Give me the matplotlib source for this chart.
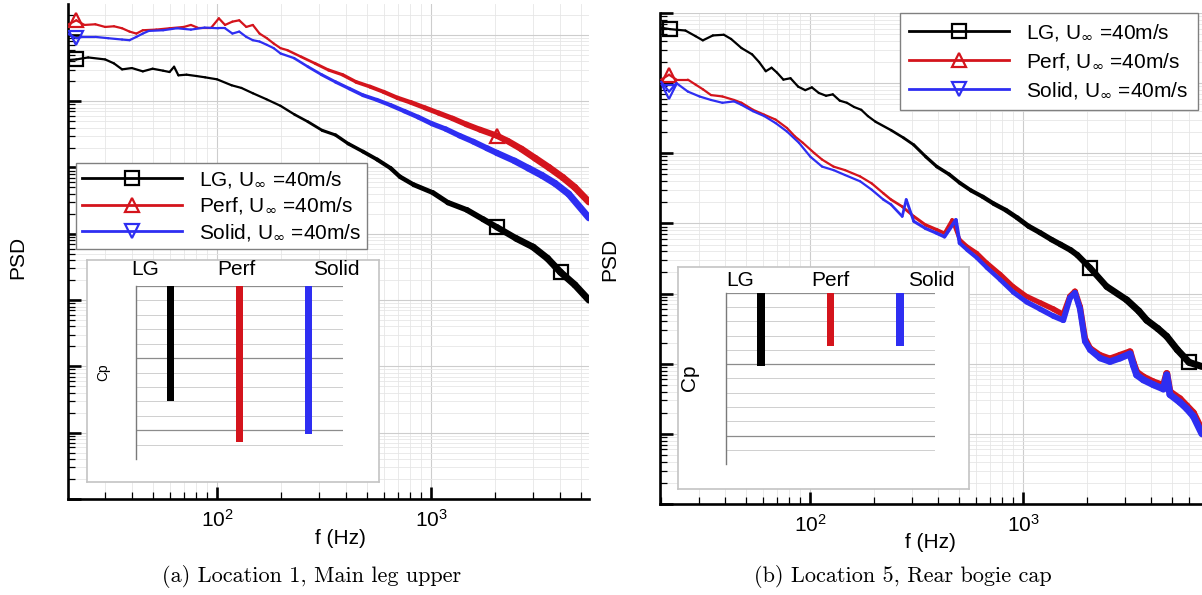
import numpy as np
import matplotlib
matplotlib.use('Agg')
import matplotlib.pyplot as plt
from matplotlib.collections import LineCollection
from matplotlib.lines import Line2D
from matplotlib.ticker import LogLocator, NullFormatter, FixedLocator

plt.rcParams['font.family'] = ['Liberation Sans', 'DejaVu Sans']
plt.rcParams['mathtext.fontset'] = 'dejavusans'

# ---------------- data ----------------
# PSD values are stored as log10(PSD) in arbitrary units
# Panel (a) Location 1, main leg upper
a_lg_f = [20, 22, 25, 30, 33, 36, 40, 45, 50, 56, 60, 63, 66, 72, 80, 88, 100, 117, 130, 147,
          170, 198, 230, 266, 310, 358, 410, 481, 560, 647, 716, 830, 1020, 1200, 1472, 1750,
          2030, 2500, 3000, 3500, 4030, 4700, 5470]
a_lg_log = [2.62, 2.63, 2.66, 2.63, 2.57, 2.48, 2.50, 2.45, 2.49, 2.46, 2.44, 2.52, 2.39, 2.40,
            2.38, 2.36, 2.33, 2.24, 2.20, 2.12, 2.03, 1.93, 1.80, 1.69, 1.56, 1.49, 1.36, 1.24,
            1.12, 0.99, 0.86, 0.74, 0.62, 0.47, 0.36, 0.22, 0.10, -0.07, -0.20, -0.37, -0.58,
            -0.77, -1.00]

a_perf_f = [20, 22, 24, 27, 30, 33, 36, 39, 42, 45, 52, 60, 70, 75.5, 81, 94, 102, 109, 118, 127,
            137, 147, 158, 171, 184, 198, 213, 247, 287, 332, 385, 447, 518, 601, 697, 807, 937,
            1087, 1261, 1462, 1695, 2030, 2280, 2643, 3066, 3556, 4127, 4700, 5470]
a_perf_log = [3.15, 3.22, 3.15, 3.16, 3.12, 3.13, 3.10, 3.05, 3.02, 3.07, 3.08, 3.10, 3.12, 3.15,
              3.11, 3.11, 3.25, 3.15, 3.20, 3.22, 3.12, 3.15, 3.02, 2.95, 2.87, 2.80, 2.77, 2.67,
              2.57, 2.47, 2.40, 2.29, 2.22, 2.14, 2.05, 1.98, 1.90, 1.82, 1.74, 1.65, 1.57, 1.48,
              1.40, 1.28, 1.14, 1.00, 0.85, 0.70, 0.48]

a_solid_f = [20, 22, 23.5, 27, 31, 36, 39, 42, 45, 48, 56, 65, 75.5, 87.5, 101.6, 109, 118, 127,
             137, 147, 158, 171, 184, 198, 229, 266, 308, 358, 415, 481, 558, 647, 751, 871, 1010,
             1171, 1359, 1575, 1827, 2030, 2456, 2849, 3303, 3800, 4400, 5470]
a_solid_log = [3.02, 2.95, 2.97, 2.97, 2.95, 2.93, 2.92, 2.97, 3.02, 3.06, 3.07, 3.10, 3.08, 3.11,
               3.10, 3.10, 3.02, 3.05, 2.97, 2.92, 2.90, 2.85, 2.80, 2.72, 2.65, 2.52, 2.40, 2.29,
               2.19, 2.09, 2.02, 1.94, 1.85, 1.76, 1.66, 1.58, 1.48, 1.39, 1.29, 1.22, 1.10, 0.99,
               0.88, 0.76, 0.60, 0.24]

# Panel (b) Location 5, rear bogie cap
b_lg_f = [20, 22, 26, 29, 31.4, 35, 39.4, 42.6, 47.7, 53.5, 57.7, 62, 66, 70, 75, 81, 88, 95, 102,
          110, 119, 128, 138, 149, 161, 174, 187, 203, 240, 275, 307, 350, 394, 450, 504, 570,
          647, 730, 830, 940, 1062, 1200, 1361, 1500, 1674, 1800, 2060, 2472, 3069, 3500, 3810,
          4300, 4730, 5300, 6020, 6920]
b_lg_log = [2.79, 2.77, 2.75, 2.67, 2.61, 2.68, 2.69, 2.63, 2.50, 2.41, 2.30, 2.17, 2.22, 2.15,
            2.05, 2.07, 1.95, 1.90, 1.94, 1.86, 1.82, 1.84, 1.75, 1.72, 1.66, 1.62, 1.53, 1.45,
            1.33, 1.22, 1.12, 0.95, 0.81, 0.70, 0.58, 0.47, 0.38, 0.28, 0.19, 0.08, -0.04, -0.13,
            -0.23, -0.30, -0.38, -0.45, -0.63, -0.90, -1.09, -1.25, -1.38, -1.50, -1.61, -1.80,
            -1.98, -2.04]

b_perf_f = [20, 21.8, 23.6, 26.7, 29, 31.5, 34.3, 38.8, 44, 47.7, 54, 61, 69, 78, 85, 92.5, 105,
            114, 129, 146, 172, 195, 221, 240, 271, 307, 348, 394, 428, 465, 504, 548, 607, 676,
            780, 900, 1040, 1202, 1387, 1546, 1662, 1754, 1852, 1955, 2064, 2301, 2561, 2853,
            3179, 3296, 3417, 3676, 4096, 4563, 4731, 4898, 5457, 5870, 6310, 6920]
b_perf_log = [2.05, 2.12, 2.05, 2.05, 1.98, 1.91, 1.83, 1.81, 1.76, 1.72, 1.62, 1.55, 1.48, 1.36,
              1.24, 1.15, 1.00, 0.91, 0.81, 0.76, 0.67, 0.57, 0.43, 0.34, 0.24, 0.10, -0.02,
              -0.09, -0.14, 0.05, -0.23, -0.33, -0.42, -0.56, -0.72, -0.90, -1.04, -1.13, -1.22,
              -1.30, -1.04, -0.97, -1.19, -1.64, -1.78, -1.88, -1.93, -1.88, -1.83, -1.99, -2.12,
              -2.19, -2.26, -2.31, -2.14, -2.40, -2.50, -2.60, -2.70, -2.95]

b_solid_f = [20, 21.8, 23.6, 26.7, 30.3, 34.3, 38.8, 44, 47.7, 54, 61, 69, 78, 88.7, 100.5, 114,
             129, 146, 172, 195, 221, 240, 271, 283, 307, 348, 394, 428, 484, 504, 548, 607, 676,
             780, 900, 1040, 1202, 1387, 1546, 1662, 1754, 1852, 1955, 2064, 2301, 2561, 2853,
             3179, 3296, 3417, 3676, 4096, 4563, 4731, 4898, 5457, 5870, 6310, 6920]
b_solid_log = [2.02, 1.88, 2.00, 1.88, 1.81, 1.76, 1.72, 1.74, 1.69, 1.60, 1.53, 1.43, 1.31, 1.15,
               0.95, 0.81, 0.76, 0.69, 0.60, 0.48, 0.34, 0.27, 0.10, 0.34, 0.03, -0.07, -0.14,
               -0.19, 0.05, -0.28, -0.38, -0.49, -0.63, -0.80, -0.98, -1.12, -1.22, -1.32, -1.38,
               -1.06, -0.99, -1.22, -1.68, -1.80, -1.92, -1.97, -1.92, -1.86, -2.02, -2.16, -2.23,
               -2.30, -2.36, -2.16, -2.44, -2.55, -2.64, -2.75, -3.00]

# Inset: mean Cp of the three configurations
cp_labels = ['LG', 'Perf', 'Solid']
cp_a = [-0.80, -1.08, -1.03]
cp_b = [-0.51, -0.37, -0.37]

legend_labels = [r'LG, U$_{\infty}$ =40m/s', r'Perf, U$_{\infty}$ =40m/s', r'Solid, U$_{\infty}$ =40m/s']
# frequencies where the plotting symbols sit
marker_freqs_a = [[22, 2030, 4030], [22, 2030], [22]]
marker_freqs_b = [[22, 2060, 6020], [22], [22]]

colors = ['#000000', '#d4141c', '#2e2ef2']
markers = ['s', '^', 'v']

# ---------------- figure ----------------
W, H = 1202, 595
fig = plt.figure(figsize=(W / 100, H / 100), dpi=100)


def fx(px):
    return px / W


def fy(py):
    return 1 - py / H


def rect(x0, y0, x1, y1):
    return [fx(x0), fy(y1), fx(x1) - fx(x0), fy(y0) - fy(y1)]


def make_main(r, xlim, ylim):
    ax = fig.add_axes(r)
    ax.set_xscale('log')
    ax.set_yscale('log')
    ax.set_xlim(*xlim)
    ax.set_ylim(*ylim)
    for s in ['top', 'right']:
        ax.spines[s].set_visible(False)
    for s in ['left', 'bottom']:
        ax.spines[s].set_linewidth(1.9)
    ax.xaxis.set_major_locator(LogLocator(base=10, numticks=30))
    ax.xaxis.set_minor_locator(LogLocator(base=10, subs=np.arange(2, 10), numticks=30))
    ax.yaxis.set_major_locator(LogLocator(base=10, numticks=30))
    ax.yaxis.set_minor_locator(LogLocator(base=10, subs=np.arange(2, 10), numticks=30))
    ax.yaxis.set_major_formatter(NullFormatter())
    ax.yaxis.set_minor_formatter(NullFormatter())
    ax.xaxis.set_minor_formatter(NullFormatter())
    ax.tick_params(which='major', direction='in', length=9, width=1.9, labelsize=15, pad=7)
    ax.tick_params(which='minor', direction='in', length=5, width=0.9)
    ax.grid(which='major', color='#cdcdcd', lw=0.8)
    ax.grid(which='minor', color='#e6e6e6', lw=0.6)
    ax.set_axisbelow(True)
    return ax


def draw_curve(ax, f, logpsd, color, marker, mfreqs, z):
    f = np.asarray(f, float)
    y = 10 ** np.asarray(logpsd, float)
    pts = np.column_stack([f, y])
    segs = np.stack([pts[:-1], pts[1:]], axis=1)
    fm = np.log10(np.sqrt(f[:-1] * f[1:]))
    w = np.interp(fm, [2.3, 3.5], [1.6, 5.0])
    lc = LineCollection(segs, colors=color, linewidths=w, capstyle='round',
                        joinstyle='round', zorder=z)
    ax.add_collection(lc)
    idx = [int(np.argmin(np.abs(np.log10(f) - np.log10(mf)))) for mf in mfreqs]
    ax.plot(f[idx], y[idx], ls='none', marker=marker, mfc='none', mec=color,
            ms=9.5, mew=1.6, zorder=z + 0.5)


def make_legend(ax, x0, y0, lsp, bpad):
    handles = [Line2D([], [], color=c, lw=2, marker=m, mfc='none', mec=c, ms=10.5, mew=1.6)
               for c, m in zip(colors, markers)]
    leg = ax.legend(handles, legend_labels, loc='upper left',
                    bbox_to_anchor=(fx(x0), fy(y0)), bbox_transform=fig.transFigure,
                    fontsize=15, frameon=True, fancybox=False, edgecolor='#808080',
                    framealpha=1, handlelength=4.8, handletextpad=0.8, borderpad=bpad,
                    labelspacing=lsp, borderaxespad=0)
    leg.get_frame().set_linewidth(1.0)
    leg.set_zorder(20)
    return leg


def make_inset(outer, inner, cp_vals, label_pos, cp_pos, cp_size):
    box = fig.add_axes(outer)
    box.set_xticks([])
    box.set_yticks([])
    for s in box.spines.values():
        s.set_edgecolor('#c4c4c4')
        s.set_linewidth(1.2)
    box.set_facecolor('white')
    box.set_zorder(5)
    axi = fig.add_axes(inner)
    axi.set_zorder(6)
    axi.set_facecolor('none')
    axi.set_xlim(0.5, 3.5)
    axi.set_ylim(-1.2, 0.0)
    axi.bar([1, 2, 3], cp_vals, width=0.11, color=colors, zorder=3)
    axi.yaxis.set_major_locator(FixedLocator([-1.0, -0.5, 0.0]))
    axi.yaxis.set_minor_locator(FixedLocator(np.arange(-1.2, 0.01, 0.1)))
    axi.set_xticks([])
    axi.tick_params(which='both', length=0, labelleft=False)
    axi.grid(which='major', axis='y', color='#8c8c8c', lw=0.9)
    axi.grid(which='minor', axis='y', color='#cfcfcf', lw=0.7)
    axi.set_axisbelow(True)
    for s in ['top', 'right', 'bottom']:
        axi.spines[s].set_visible(False)
    axi.spines['left'].set_color('#7a7a7a')
    axi.spines['left'].set_linewidth(1.0)
    for name, (px, py) in zip(cp_labels, label_pos):
        fig.text(fx(px), fy(py), name, ha='center', va='center', fontsize=15, zorder=10)
    fig.text(fx(cp_pos[0]), fy(cp_pos[1]), 'Cp', rotation=90, ha='center', va='center',
             fontsize=cp_size, zorder=10)


# ---- panel (a)
ax_a = make_main(rect(68, 4, 589, 499), (20.12, 5473), (1e-4, 10 ** 3.466))
draw_curve(ax_a, a_lg_f, a_lg_log, colors[0], markers[0], marker_freqs_a[0], 3)
draw_curve(ax_a, a_perf_f, a_perf_log, colors[1], markers[1], marker_freqs_a[1], 4)
draw_curve(ax_a, a_solid_f, a_solid_log, colors[2], markers[2], marker_freqs_a[2], 5)
make_legend(ax_a, 76, 163, 0.3, 0.3)
fig.text(fx(18), fy(257), 'PSD', rotation=90, ha='center', va='center', fontsize=15)
fig.text(fx(340), fy(539), 'f (Hz)', ha='center', va='center', fontsize=15)
make_inset(rect(87, 260, 379, 482), rect(136, 286, 343, 459), cp_a,
           [(145, 270), (236, 270), (336, 270)], (103, 372), 10)
fig.text(fx(312), fy(577), '(a) Location 1, Main leg upper', family='cmr10', fontsize=16,
         ha='center', va='center')

# ---- panel (b)
ax_b = make_main(rect(660, 13, 1202, 504), (19.76, 6925), (1e-4, 1e3))
draw_curve(ax_b, b_lg_f, b_lg_log, colors[0], markers[0], marker_freqs_b[0], 3)
draw_curve(ax_b, b_perf_f, b_perf_log, colors[1], markers[1], marker_freqs_b[1], 4)
draw_curve(ax_b, b_solid_f, b_solid_log, colors[2], markers[2], marker_freqs_b[2], 5)
make_legend(ax_b, 900, 13, 0.42, 0.45)
fig.text(fx(610), fy(259), 'PSD', rotation=90, ha='center', va='center', fontsize=15)
fig.text(fx(930), fy(543), 'f (Hz)', ha='center', va='center', fontsize=15)
make_inset(rect(678, 267, 969, 489), rect(726, 293, 935, 464), cp_b,
           [(740, 280), (830, 280), (931, 280)], (690, 378), 15)
fig.text(fx(903), fy(577), '(b) Location 5, Rear bogie cap', family='cmr10', fontsize=16,
         ha='center', va='center')

fig.savefig('out.png', dpi=100)
